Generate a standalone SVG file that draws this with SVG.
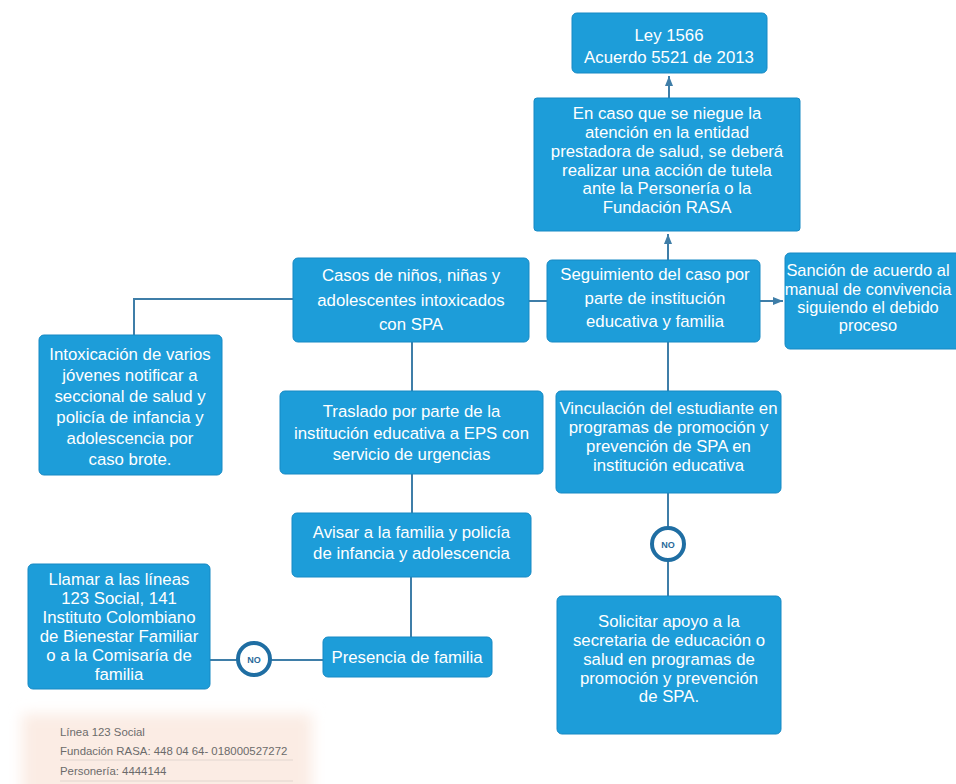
<svg xmlns="http://www.w3.org/2000/svg" width="956" height="784" viewBox="0 0 956 784">
<defs>
<style>
.box{fill:#1d9dd9;stroke:#1689c4;stroke-width:1}
.t{font-family:"Liberation Sans",Arial,sans-serif;font-size:16.8px;fill:#ffffff;text-anchor:middle}
.c{fill:none;stroke:#3f7ea8;stroke-width:2}
.no{fill:#ffffff;stroke:#1f6ea3;stroke-width:4}
.nt{font-family:"Liberation Sans",Arial,sans-serif;font-size:9px;font-weight:bold;fill:#2a6a9a;text-anchor:middle}
.note{font-family:"Liberation Sans",Arial,sans-serif;font-size:11.4px;fill:#6b6b6b}
</style>
<marker id="ah" viewBox="0 0 10 10" refX="10" refY="5" markerWidth="5" markerHeight="5" orient="auto">
<path d="M0,1 L10,5 L0,9 z" fill="#3f7ea8"/>
</marker>
<filter id="blur" x="-20%" y="-50%" width="140%" height="200%">
<feGaussianBlur stdDeviation="7"/>
</filter>
</defs>
<rect x="0" y="0" width="956" height="784" fill="#ffffff"/>

<g id="connectors">
<line class="c" x1="669" y1="98" x2="669" y2="76" marker-end="url(#ah)"/>
<line class="c" x1="668" y1="260" x2="668" y2="234" marker-end="url(#ah)"/>
<line class="c" x1="529" y1="301" x2="547" y2="301"/>
<line class="c" x1="760" y1="301" x2="783" y2="301" marker-end="url(#ah)"/>
<polyline class="c" points="293,299 134,299 134,335"/>
<line class="c" x1="412" y1="342" x2="412" y2="391"/>
<line class="c" x1="412" y1="474" x2="412" y2="513"/>
<line class="c" x1="411" y1="577" x2="411" y2="637"/>
<line class="c" x1="323" y1="660" x2="210" y2="660"/>
<line class="c" x1="668" y1="342" x2="668" y2="391"/>
<line class="c" x1="668" y1="493" x2="668" y2="596"/>
</g>

<g id="n-ley">
<rect class="box" x="572" y="13" width="195" height="60" rx="5"/>
<text class="t" x="669" y="41">Ley 1566</text>
<text class="t" x="669" y="63">Acuerdo 5521 de 2013</text>
</g>

<g id="n-tutela">
<rect class="box" x="534" y="98" width="266" height="133" rx="3"/>
<text class="t" x="667" y="119">En caso que se niegue la</text>
<text class="t" x="667" y="138">atención en la entidad</text>
<text class="t" x="667" y="157">prestadora de salud, se deberá</text>
<text class="t" x="667" y="175.5">realizar una acción de tutela</text>
<text class="t" x="667" y="194">ante la Personería o la</text>
<text class="t" x="667" y="213">Fundación RASA</text>
</g>

<g id="n-casos">
<rect class="box" x="293" y="258" width="236" height="84" rx="5"/>
<text class="t" x="411" y="281">Casos de niños, niñas y</text>
<text class="t" x="411" y="306">adolescentes intoxicados</text>
<text class="t" x="411" y="330">con SPA</text>
</g>

<g id="n-seguimiento">
<rect class="box" x="547" y="260" width="213" height="82" rx="5"/>
<text class="t" x="655" y="280">Seguimiento del caso por</text>
<text class="t" x="655" y="303.5">parte de institución</text>
<text class="t" x="655" y="327">educativa y familia</text>
</g>

<g id="n-sancion">
<rect class="box" x="785" y="253" width="180" height="96" rx="5"/>
<text class="t" x="868" y="276" style="font-size:16.4px">Sanción de acuerdo al</text>
<text class="t" x="868" y="294.5" style="font-size:16.4px">manual de convivencia</text>
<text class="t" x="868" y="313" style="font-size:16.4px">siguiendo el debido</text>
<text class="t" x="868" y="331" style="font-size:16.4px">proceso</text>
</g>

<g id="n-intox">
<rect class="box" x="39" y="335" width="183" height="140" rx="5"/>
<text class="t" x="130" y="360">Intoxicación de varios</text>
<text class="t" x="130" y="381">jóvenes notificar a</text>
<text class="t" x="130" y="402">seccional de salud y</text>
<text class="t" x="130" y="423">policía de infancia y</text>
<text class="t" x="130" y="444">adolescencia por</text>
<text class="t" x="130" y="465">caso brote.</text>
</g>

<g id="n-traslado">
<rect class="box" x="280" y="391" width="263" height="83" rx="5"/>
<text class="t" x="411.5" y="417">Traslado por parte de la</text>
<text class="t" x="411.5" y="438.5">institución educativa a EPS con</text>
<text class="t" x="411.5" y="460">servicio de urgencias</text>
</g>

<g id="n-vinculacion">
<rect class="box" x="556" y="391" width="225" height="102" rx="5"/>
<text class="t" x="668.5" y="414">Vinculación del estudiante en</text>
<text class="t" x="668.5" y="433">programas de promoción y</text>
<text class="t" x="668.5" y="452">prevención de SPA en</text>
<text class="t" x="668.5" y="471">institución educativa</text>
</g>

<g id="n-avisar">
<rect class="box" x="292" y="513" width="239" height="64" rx="5"/>
<text class="t" x="411.5" y="538">Avisar a la familia y policía</text>
<text class="t" x="411.5" y="559">de infancia y adolescencia</text>
</g>

<g id="n-no-right">
<circle class="no" cx="668" cy="544" r="16"/>
<text class="nt" x="668" y="547.5">NO</text>
</g>

<g id="n-llamar">
<rect class="box" x="28" y="564" width="182" height="125" rx="5"/>
<text class="t" x="119" y="585">Llamar a las líneas</text>
<text class="t" x="119" y="604">123 Social, 141</text>
<text class="t" x="119" y="623">Instituto Colombiano</text>
<text class="t" x="119" y="642">de Bienestar Familiar</text>
<text class="t" x="119" y="661">o a la Comisaría de</text>
<text class="t" x="119" y="680">familia</text>
</g>

<g id="n-no-left">
<circle class="no" cx="254" cy="659" r="16"/>
<text class="nt" x="254" y="662.5">NO</text>
</g>

<g id="n-presencia">
<rect class="box" x="323" y="637" width="169" height="40" rx="5"/>
<text class="t" x="407" y="663">Presencia de familia</text>
</g>

<g id="n-solicitar">
<rect class="box" x="557" y="596" width="224" height="138" rx="5"/>
<text class="t" x="669" y="627">Solicitar apoyo a la</text>
<text class="t" x="669" y="646">secretaria de educación o</text>
<text class="t" x="669" y="665">salud en programas de</text>
<text class="t" x="669" y="683.5">promoción y prevención</text>
<text class="t" x="669" y="702">de SPA.</text>
</g>

<g id="note">
<rect x="22" y="714" width="290" height="90" fill="#fbece4" filter="url(#blur)"/>
<line x1="60" y1="760" x2="293" y2="760" stroke="#e2d6cf" stroke-width="1"/>
<line x1="60" y1="781" x2="293" y2="781" stroke="#e2d6cf" stroke-width="1"/>
<text class="note" x="60" y="736">Línea 123 Social</text>
<text class="note" x="60" y="755">Fundación RASA: 448 04 64- 018000527272</text>
<text class="note" x="60" y="775">Personería: 4444144</text>
</g>
</svg>
